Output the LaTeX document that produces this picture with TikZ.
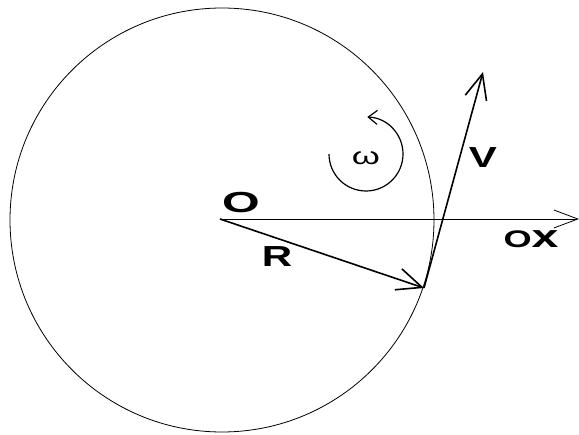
\documentclass[tikz,border=0pt]{standalone}
\usepackage{fontspec}
\setmainfont{Liberation Sans}
\usetikzlibrary{arrows.meta,positioning}

\begin{document}
\begin{tikzpicture}[x=1pt,y=-1pt,
  disk/.style={circle,draw,line width=0.8pt,minimum size=424pt,inner sep=0pt},
  vec/.style={-{Straight Barb[length=25pt,width=22pt]},line width=1.6pt},
  axis/.style={-{Straight Barb[length=24pt,width=18pt]},line width=0.8pt},
  spin/.style={-{Straight Barb[length=9pt,width=14pt]},line width=1.2pt},
  lab/.style={font=\fontsize{29}{32}\selectfont\bfseries,xscale=1.45,inner sep=0pt}
]
\useasboundingbox (0,0) rectangle (579,435);
\node[disk] (wheel) at (222,220) {};

\coordinate (O) at (220,219);
\coordinate (P) at (424,288);
\coordinate (Vtip) at (483,72);
\coordinate (Xtip) at (579,219);
\coordinate (spinc) at (366,154);

\draw[axis] (O) -- (Xtip);
\draw[vec] (O) -- (P);
\draw[vec] (P) -- (Vtip);
\draw[spin] ([shift={(180:37)}]spinc) arc[start angle=180,end angle=-88,radius=37];

\node[lab,xscale=1.15] (Olab) at (241,203) {O};
\node[lab] (Rlab) at (277,257) {R};
\node[lab] (Vlab) at (483,158) {V};
\node[lab,font=\fontsize{24}{28}\selectfont\bfseries,xscale=1.04,anchor=base] (Oxlab) at (531,248) {O{\fontsize{32}{32}\selectfont x}};
\node[font=\fontsize{24}{28}\selectfont,xscale=1.5,inner sep=0pt] (omega) at (366,158) {ω};
\end{tikzpicture}
\end{document}
